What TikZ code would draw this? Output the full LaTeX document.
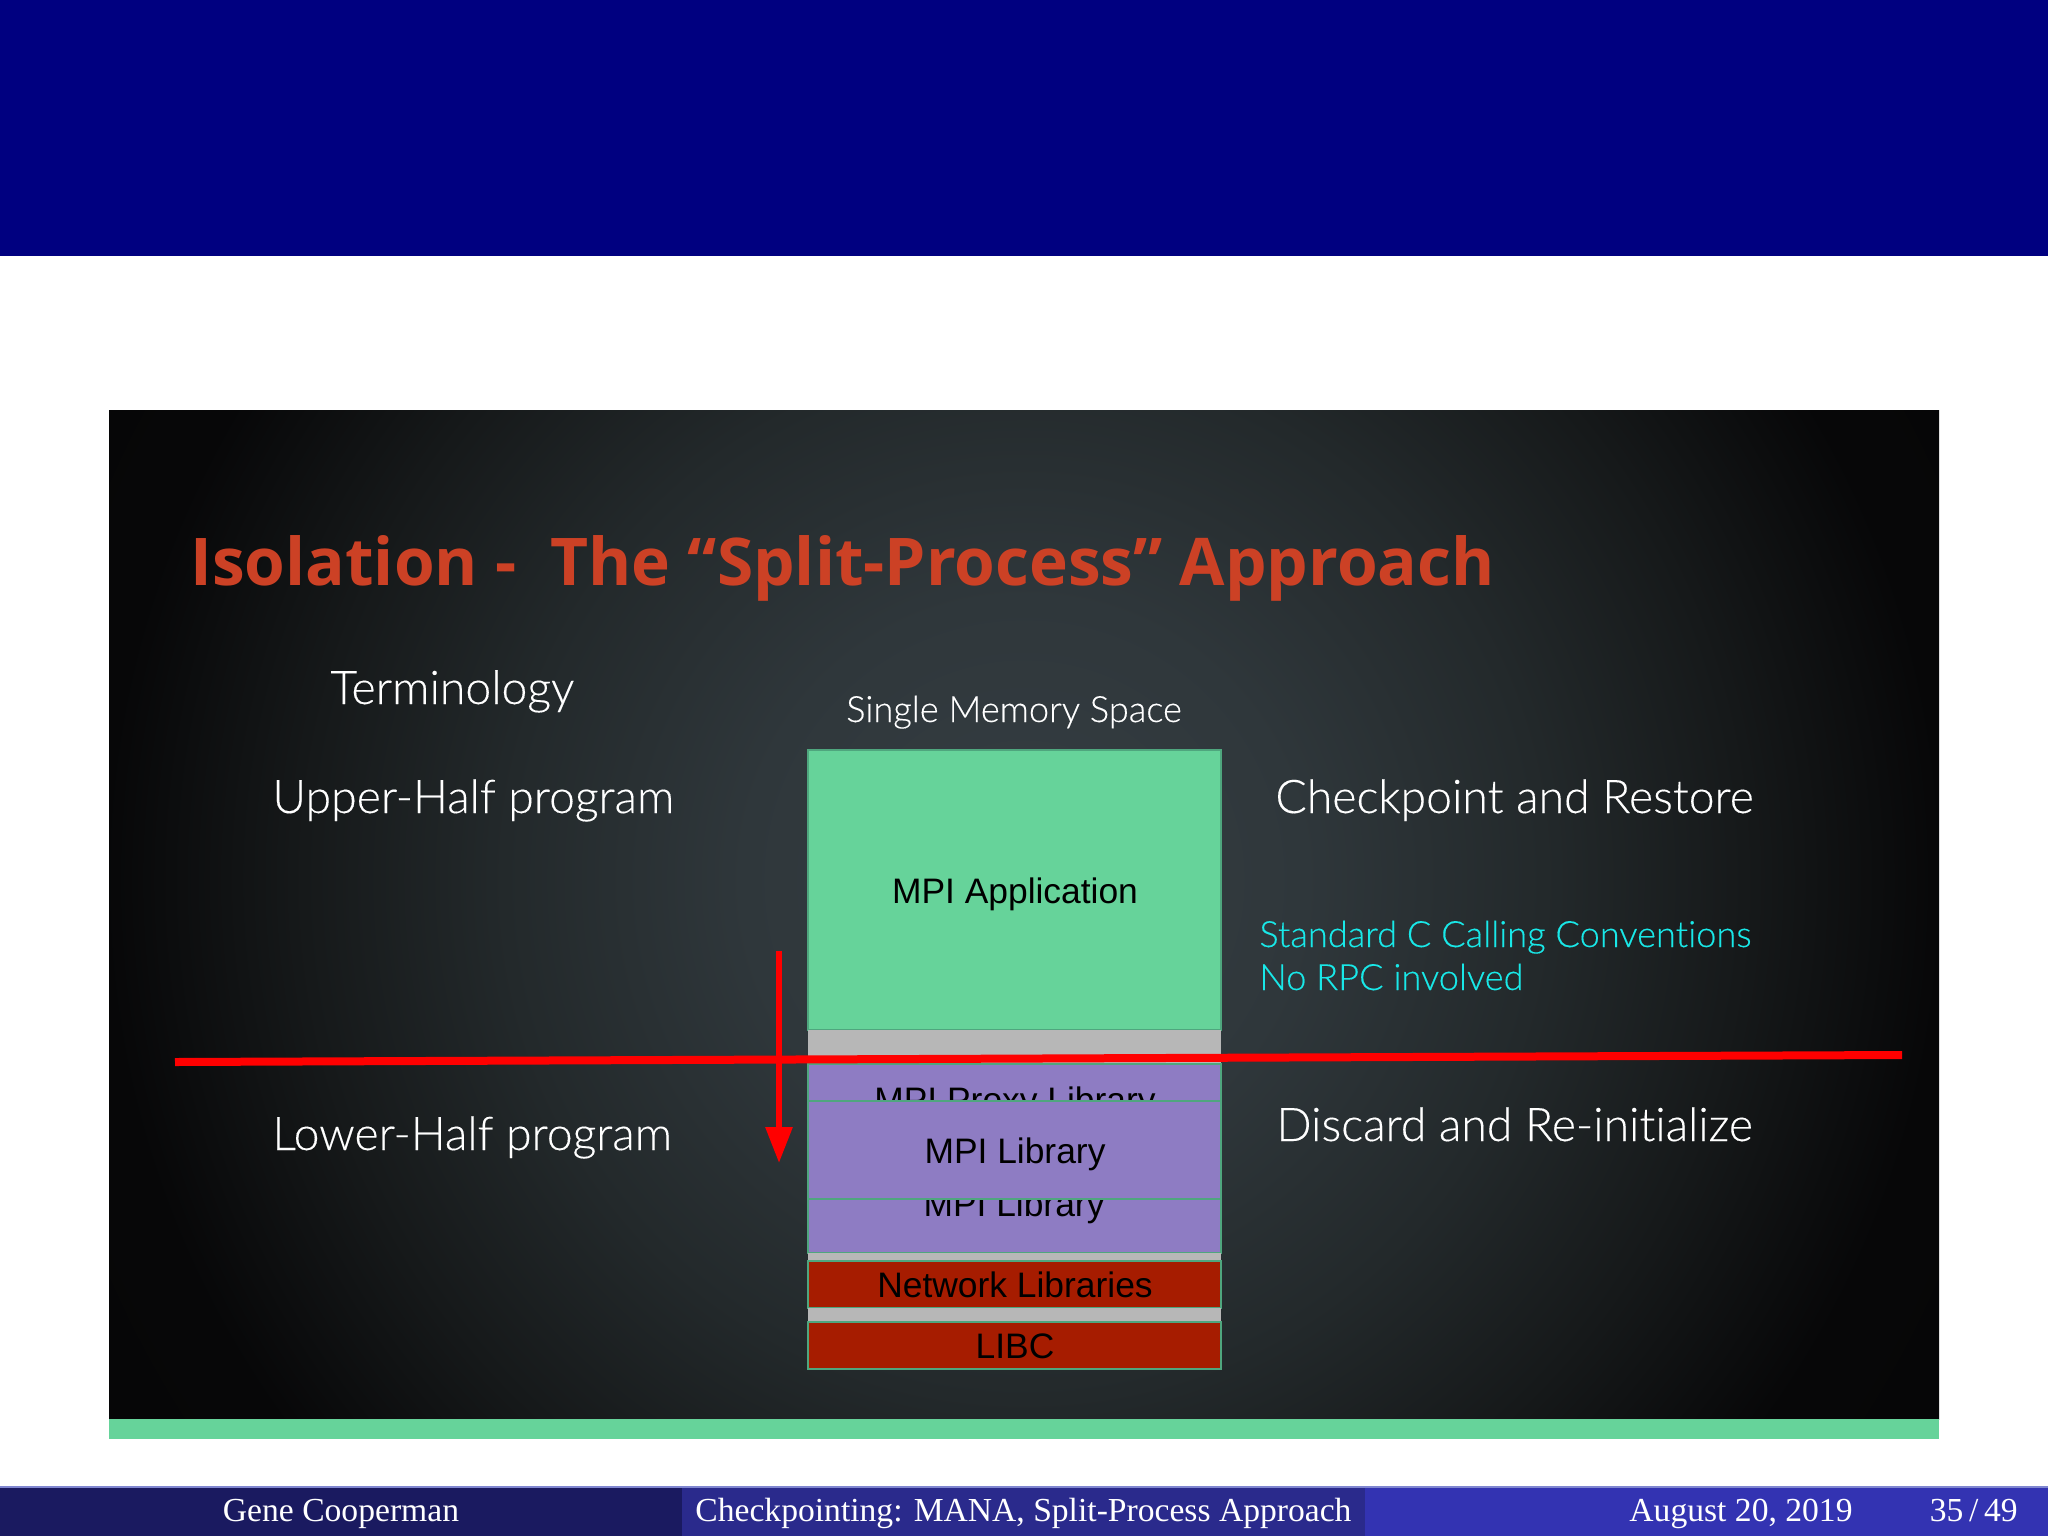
\documentclass[tikz,border=0pt]{standalone}
\usepackage{fontspec}
\setmainfont[Ligatures=CommonOff,FakeBold=0.25]{Lato Light}
\newfontfamily\titlef[Ligatures=CommonOff]{Open Sans}
\newfontfamily\sansf{Liberation Sans}
\newfontfamily\serf{Liberation Serif}
\usetikzlibrary{arrows.meta}
\definecolor{navy}{HTML}{000080}
\definecolor{strip}{HTML}{66D39A}
\definecolor{edgegreen}{HTML}{4FA67E}
\definecolor{purp}{HTML}{8E7CC3}
\definecolor{brick}{HTML}{A61C00}
\definecolor{gapgrey}{HTML}{B7B7B7}
\definecolor{titlered}{HTML}{CC4125}
\definecolor{cyanish}{HTML}{19E8E8}
\definecolor{foota}{HTML}{1A1A60}
\definecolor{footb}{HTML}{2A2A8C}
\definecolor{footc}{HTML}{3333B2}
\definecolor{footline}{HTML}{7F86D0}
\definecolor{bga}{HTML}{363E43}
\definecolor{bgb}{HTML}{2F373B}
\definecolor{bgc}{HTML}{23292B}
\definecolor{bgd}{HTML}{16191A}
\definecolor{bge}{HTML}{070708}
\pgfdeclareradialshading{slidebg}{\pgfpointorigin}{
  color(0bp)=(bga);
  color(7bp)=(bgb);
  color(13bp)=(bgc);
  color(18bp)=(bgd);
  color(23bp)=(bge);
  color(50bp)=(black)}
\tikzset{
  x=0.5pt,y=-0.5pt,
  layer/.style={anchor=north west,inner sep=0pt,outer sep=0pt,draw=edgegreen,line width=1.1pt,minimum width=206.5pt},
  gap/.style={anchor=north west,inner sep=0pt,outer sep=0pt,fill=gapgrey,draw=none,minimum width=206.5pt},
  boxtext/.style={anchor=base,inner sep=0pt,text=black,font=\sansf\fontsize{17.7}{21}\selectfont},
  bigtext/.style={anchor=base west,inner sep=0pt,text=white,font=\fontsize{23.2}{27}\selectfont},
  smalltext/.style={anchor=base west,inner sep=0pt,font=\fontsize{18.1}{22}\selectfont},
  foottext/.style={anchor=base,inner sep=0pt,text=white,font=\serf\fontsize{16.8}{20}\selectfont},
  redline/.style={draw=red,line width=4pt},
  redarrow/.style={draw=red,line width=3pt,-{Triangle[length=18pt,width=13pt]}}
}
\begin{document}
\begin{tikzpicture}
\useasboundingbox (0,0) rectangle (2048,1536);
\fill[white] (0,0) rectangle (2048,1536);
\fill[navy] (0,0) rectangle (2048,256);
% slide background
\begin{scope}
\clip (109,410) rectangle (1939,1419);
\shade[shading=slidebg] (24,-120) rectangle (2024,1880);
\end{scope}
\fill[strip] (109,1419) rectangle (1939,1439);
% footer
\fill[foota] (0,1487) rectangle (682,1536);
\fill[footb] (682,1487) rectangle (1365,1536);
\fill[footc] (1365,1487) rectangle (2048,1536);
\fill[footline] (0,1486) rectangle (2048,1488);
\node[foottext] (fa) at (341,1521) {Gene Cooperman};
\node[foottext,anchor=base west] (fb) at (695,1521) {Checkpointing: MANA, Split-Process Approach};
\node[foottext] (fc) at (1741,1521) {August 20, 2019};
\node[foottext,anchor=base east] (fd) at (2018,1521) {35\,/\,49};
% texts
\node[anchor=base west,inner sep=0pt,text=titlered,font=\titlef\bfseries\fontsize{32.9}{40}\selectfont] (title) at (190,585) {Isolation -\ \ The “Split-Process” Approach};
\node[bigtext] (term) at (330,704) {Terminology};
\node[bigtext] (upper) at (272,813) {Upper-Half program};
\node[bigtext] (lower) at (272,1150) {Lower-Half program};
\node[bigtext] (check) at (1275,813) {Checkpoint and Restore};
\node[bigtext] (discard) at (1276,1141) {Discard and Re-initialize};
\node[smalltext,text=white,anchor=base] (single) at (1014,722) {Single Memory Space};
\node[smalltext,text=cyanish] (std) at (1259,947) {Standard C Calling Conventions};
\node[smalltext,text=cyanish] (norpc) at (1259,990) {No RPC involved};
% stack
\node[layer,fill=strip,minimum height=140pt] (app) at (808,750) {};
\node[boxtext] (applab) at (1015,903) {MPI Application};
\node[gap,minimum height=18pt] (g1) at (808,1030) {};
\node[layer,fill=purp,minimum height=94.5pt] (proxy) at (808,1064) {};
\node[boxtext] (proxylab) at (1015,1112) {MPI Proxy Library};
\node[boxtext] (liblow) at (1014,1216) {MPI Library};
\node[layer,fill=purp,minimum height=49pt] (libup) at (808,1101) {};
\node[boxtext] (libuplab) at (1015,1163) {MPI Library};
\node[gap,minimum height=4pt] (g2) at (808,1253) {};
\node[layer,fill=brick,minimum height=23.5pt] (net) at (808,1261) {};
\node[boxtext] (netlab) at (1015,1297) {Network Libraries};
\node[gap,minimum height=7pt] (g3) at (808,1308) {};
\node[layer,fill=brick,minimum height=23.5pt] (libc) at (808,1322) {};
\node[boxtext] (libclab) at (1015,1358) {LIBC};
% red marks
\coordinate (ll) at (175,1062);
\coordinate (lr) at (1902,1055);
\coordinate (as) at (779,951);
\coordinate (ae) at (779,1163);
\draw[redline] (ll) -- (lr);
\draw[redarrow] (as) -- (ae);
\end{tikzpicture}
\end{document}
